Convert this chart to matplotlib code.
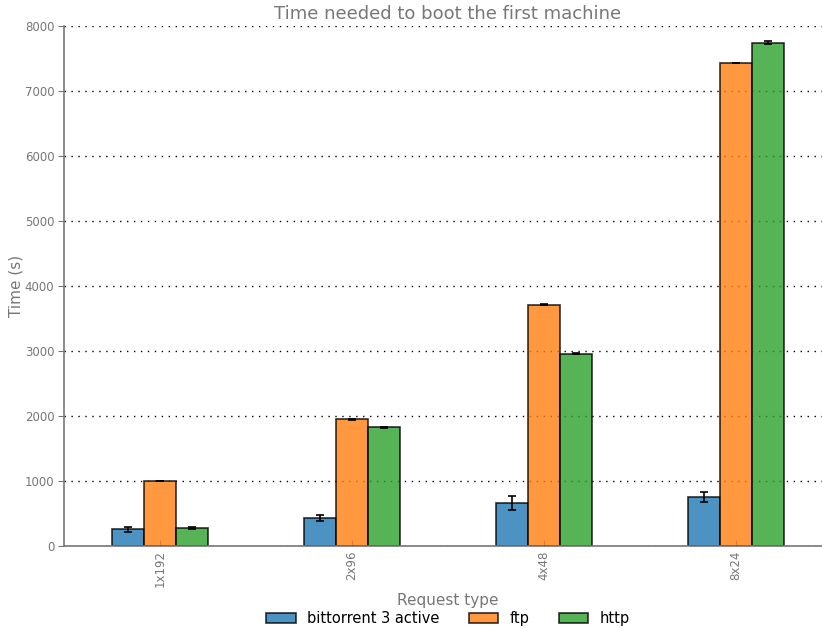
import matplotlib
matplotlib.use("Agg")
import matplotlib.pyplot as plt
import numpy as np

categories = ["1x192", "2x96", "4x48", "8x24"]
series_names = ["bittorrent 3 active", "ftp", "http"]
bittorrent = [260, 430, 660, 755]
bittorrent_err = [40, 50, 110, 75]
ftp = [1000, 1950, 3712, 7432]
ftp_err = [5, 5, 5, 5]
http = [280, 1830, 2955, 7742]
http_err = [20, 8, 8, 22]

values = [bittorrent, ftp, http]
errors = [bittorrent_err, ftp_err, http_err]
colors = ["tab:blue", "tab:orange", "tab:green"]

fig = plt.figure(figsize=(8.22, 6.28), dpi=100)
ax = fig.add_axes([64 / 822, 82 / 628, 768 / 822, 520 / 628])

x = np.arange(len(categories))
width = 1 / 6
for k, (vals, errs, col, name) in enumerate(zip(values, errors, colors, series_names)):
    ax.bar(x + (k - 1) * width, vals, width, yerr=errs, color=col, alpha=0.8,
           edgecolor="black", linewidth=1.2, label=name,
           error_kw=dict(ecolor="black", capsize=3, elinewidth=1.2, capthick=1.2))

ax.set_xlim(-0.5, 3.5)
ax.set_ylim(0, 8000)
ax.set_xticks(x)
ax.set_xticklabels(categories, rotation=90)
ax.set_yticks(np.arange(0, 8001, 1000))

grey = "#777777"
ax.yaxis.grid(True, linestyle=(0, (1, 4)), color="black", linewidth=1.0)
ax.set_axisbelow(True)
for s in ["top", "right"]:
    ax.spines[s].set_visible(False)
for s in ["left", "bottom"]:
    ax.spines[s].set_color(grey)
    ax.spines[s].set_linewidth(1.2)
ax.tick_params(axis="both", colors=grey, labelsize=8.5, labelcolor=grey, length=4)
ax.tick_params(axis="x", direction="in", pad=3)
ax.tick_params(axis="y", direction="out", pad=3)

ax.set_title("Time needed to boot the first machine", color=grey, fontsize=13, pad=5)
ax.set_ylabel("Time (s)", color=grey, fontsize=11)
ax.yaxis.set_label_coords(-0.053, 0.5)
ax.set_xlabel("Request type", color=grey, fontsize=11, labelpad=4)

fig.legend(loc="lower center", bbox_to_anchor=(448 / 822, -0.018), ncol=3, frameon=False,
           fontsize=10.5, handlelength=2.0, handleheight=0.7, handletextpad=0.8,
           columnspacing=2.0)

fig.savefig("out.png", dpi=100)
